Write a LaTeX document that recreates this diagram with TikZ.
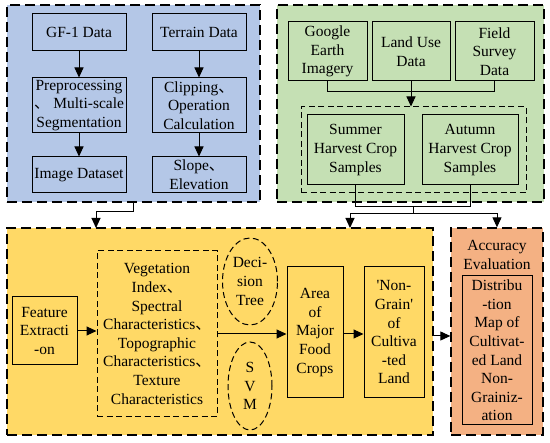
\documentclass[tikz,border=0pt]{standalone}
\usepackage{fontspec}
\newfontfamily\tnr{Liberation Serif}
\newfontfamily\cjk{Noto Sans CJK SC}
\usetikzlibrary{arrows.meta,shapes.geometric}
\newcommand{\dun}{{\cjk 、}}
\definecolor{pblue}{HTML}{B4C7E7}
\definecolor{pgreen}{HTML}{C5E0B4}
\definecolor{pyellow}{HTML}{FFD966}
\definecolor{porange}{HTML}{F4B183}
\tikzset{
  base/.style={font={\tnr\fontsize{15.5}{18.6}\selectfont}, align=center, inner sep=0pt},
  box/.style={base, draw, line width=1pt, rectangle},
  panel/.style={draw, line width=1.3pt, dash pattern=on 10pt off 5pt, inner sep=0pt, rectangle},
  dbox/.style={base, draw, line width=1pt, dash pattern=on 6pt off 3.5pt},
  arr/.style={line width=1pt, -{Triangle[length=10pt,width=9pt]}},
  ln/.style={line width=1pt},
}
\begin{document}
\begin{tikzpicture}[x=1pt,y=-1pt]
\useasboundingbox (0,0) rectangle (550,443);
% panels
\node[panel, fill=pblue, minimum width=253pt, minimum height=197pt] (bluep) at (133.5,103.5) {};
\node[panel, fill=pgreen, minimum width=267pt, minimum height=197pt] (greenp) at (410.5,103.5) {};
\node[panel, fill=pyellow, minimum width=426pt, minimum height=207pt] (yelp) at (220,331.5) {};
\node[panel, fill=porange, minimum width=92pt, minimum height=207pt] (accp) at (497,331.5) {};
% blue panel
\node[box, minimum width=94pt, minimum height=37pt] (gf) at (79,32.5) {GF-1 Data};
\node[box, minimum width=94pt, minimum height=37pt] (ter) at (199,32.5) {Terrain Data};
\node[box, minimum width=94pt, minimum height=55pt] (pre) at (79,105.5) {Preprocessing\\\dun\ Multi-scale\\Segmentation};
\node[box, minimum width=94pt, minimum height=55pt] (clip) at (199,105.5) {Clipping\dun\\Operation\\Calculation};
\node[box, minimum width=94pt, minimum height=36pt] (img) at (79,175) {Image Dataset};
\node[box, minimum width=94pt, minimum height=36pt] (slope) at (199,175) {Slope\dun\\Elevation};
\draw[arr] (gf) -- (pre);
\draw[arr] (ter) -- (clip);
\draw[arr] (pre) -- (img);
\draw[arr] (clip) -- (slope);
% green panel
\node[box, minimum width=79pt, minimum height=59pt] (ge) at (327.5,51.5) {Google\\Earth\\Imagery};
\node[box, minimum width=78pt, minimum height=59pt] (lu) at (411,51.5) {Land Use\\Data};
\node[box, minimum width=79pt, minimum height=59pt] (fs) at (494.5,51.5) {Field\\Survey\\Data};
\node[dbox, minimum width=225pt, minimum height=86pt] (inner) at (413.5,150) {};
\node[box, minimum width=97pt, minimum height=70pt] (sum) at (355.5,150) {Summer\\Harvest Crop\\Samples};
\node[box, minimum width=96pt, minimum height=70pt] (aut) at (470,150) {Autumn\\Harvest Crop\\Samples};
\coordinate (gy) at (0,92);
\draw[ln] (ge.south) -- (ge.south |- gy) -- (fs.south |- gy) -- (fs.south);
\draw[arr] (lu.south) -- (lu.south |- inner.north);
% yellow panel
\node[box, minimum width=65pt, minimum height=68pt] (fe) at (44.5,331) {Feature\\Extracti\\-on};
\node[dbox, minimum width=120pt, minimum height=166pt] (vb) at (157,334) {Vegetation\\Index\dun\\Spectral\\Characteristics\dun\\Topographic\\Characteristics\dun\\Texture\\Characteristics};
\node[base, ellipse, draw, line width=1pt, dash pattern=on 6pt off 3.5pt, minimum width=55pt, minimum height=87pt] (dt) at (250,281.5) {Deci-\\sion\\Tree};
\node[base, ellipse, draw, line width=1pt, dash pattern=on 6pt off 3.5pt, minimum width=44pt, minimum height=88pt] (svm) at (250,386) {S\\V\\M};
\node[box, minimum width=56pt, minimum height=131pt] (area) at (315,332.5) {Area\\of\\Major\\Food\\Crops};
\node[box, minimum width=60pt, minimum height=131pt] (ng) at (394,332.5) {'Non-\\Grain'\\of\\Cultiva\\-ted\\Land};
\coordinate (ay) at (0,334);
\coordinate (by) at (0,336);
\draw[arr] (fe.east) -- (fe.east -| vb.west);
\draw[arr] (vb.east |- ay) -- (area.west |- ay);
\draw[arr] (area.east |- ay) -- (ng.west |- ay);
% accuracy panel
\node[base] (acct) at (497,255) {Accuracy\\Evaluation};
\node[box, minimum width=70pt, minimum height=149pt] (dist) at (497,350.5) {Distribu\\-tion\\Map of\\Cultivat-\\ed Land\\Non-\\Grainiz-\\ation};
\draw[arr] (yelp.east |- by) -- (accp.west |- by);
% connectors between panels
\coordinate (j1) at (133.5,212);
\coordinate (yin1) at (96,228);
\draw[arr] (bluep.south -| j1) -- (j1) -| (yin1);
\coordinate (sy) at (0,207);
\draw[ln] (sum.south) -- (sum.south |- sy) -- (aut.south |- sy) -- (aut.south);
\coordinate (m1) at (413,207);
\coordinate (m2) at (413,214);
\coordinate (yin2) at (350,228);
\draw[ln] (m1) -- (m2);
\draw[arr] (m2) -| (yin2);
\draw[arr] (m2) -| (accp.north);
\end{tikzpicture}
\end{document}
